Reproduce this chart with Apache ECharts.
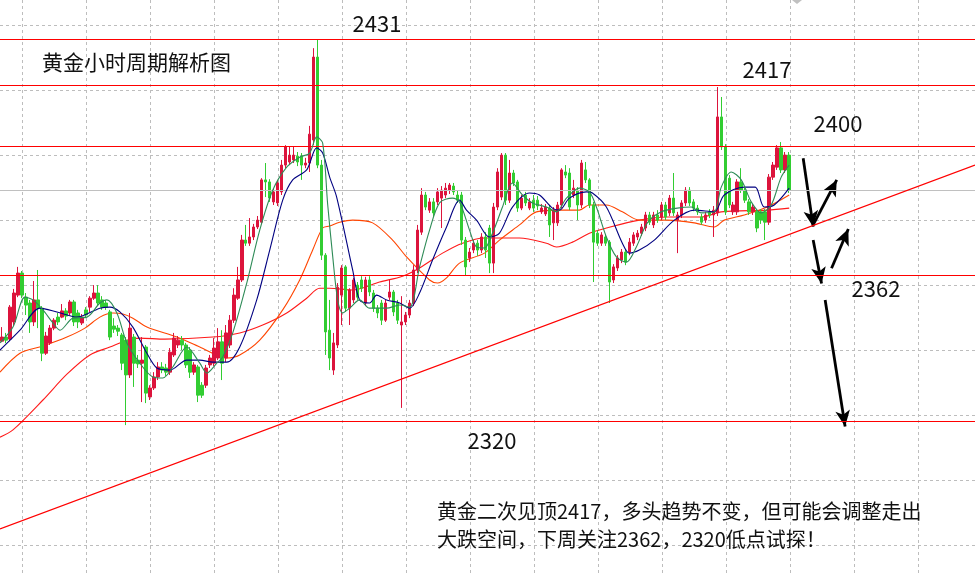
<!DOCTYPE html>
<html><head><meta charset="utf-8">
<script src="https://cdn.jsdelivr.net/npm/echarts@6/dist/echarts.min.js"></script>
<style>html,body{margin:0;padding:0;background:#fff}#c{width:975px;height:573px}</style>
</head><body><div id="c"></div>
<script>
// hourly gold candles: [open, close, low, high]
const candles = [
[2343.2,2344.4,2342.9,2347.3],[2344.4,2343.5,2342.6,2345.6],[2343.8,2353.1,2343.2,2353.7],[2348.8,2357.2,2347.6,2358.4],
[2356.6,2363.0,2356.0,2364.8],[2363.0,2356.6,2355.7,2363.6],[2356.0,2353.7,2350.8,2357.2],[2354.3,2348.8,2345.6,2355.2],
[2348.8,2355.2,2347.6,2360.7],[2355.2,2352.8,2347.0,2363.9],[2352.8,2339.7,2337.4,2353.4],[2339.7,2344.7,2339.2,2345.9],
[2342.7,2347.0,2342.1,2347.9],[2347.0,2349.3,2346.4,2349.9],[2350.2,2348.8,2347.9,2351.4],[2350.2,2352.0,2349.9,2354.0],
[2352.0,2350.5,2349.3,2352.8],[2351.4,2354.6,2350.8,2355.2],[2354.6,2348.8,2347.6,2355.2],[2351.4,2348.8,2347.0,2352.3],
[2348.5,2350.2,2347.9,2351.1],[2352.3,2350.8,2349.9,2353.1],[2353.1,2355.7,2351.7,2356.3],[2355.7,2357.2,2355.2,2359.5],
[2357.2,2354.3,2353.7,2359.5],[2355.2,2353.1,2352.3,2356.3],[2354.3,2353.1,2352.3,2355.2],[2351.7,2344.4,2343.5,2352.3],
[2347.6,2346.7,2345.6,2349.9],[2347.0,2346.1,2344.7,2347.9],[2345.0,2336.8,2334.8,2345.6],[2343.5,2333.4,2318.8,2344.4],
[2333.4,2347.0,2332.5,2351.4],[2344.4,2336.8,2329.9,2345.3],[2337.7,2336.6,2335.4,2339.2],[2336.8,2337.7,2325.5,2344.4],
[2341.5,2328.1,2325.2,2342.1],[2327.0,2329.6,2326.1,2330.4],[2329.6,2332.8,2329.0,2334.2],[2332.8,2335.7,2331.9,2337.1],
[2335.7,2334.8,2333.9,2337.1],[2335.4,2334.2,2333.1,2336.6],[2334.2,2340.0,2333.4,2341.2],[2339.2,2344.1,2338.6,2345.6],
[2342.1,2343.5,2341.2,2344.7],[2343.5,2342.1,2340.6,2344.7],[2342.1,2336.3,2335.4,2342.7],[2340.6,2334.2,2332.5,2341.5],
[2334.2,2336.3,2333.4,2337.1],[2335.7,2327.5,2325.5,2336.3],[2330.4,2327.5,2326.7,2331.3],[2330.4,2335.4,2329.6,2336.3],
[2336.3,2338.3,2335.4,2339.2],[2336.8,2341.2,2336.0,2344.1],[2338.3,2343.0,2337.7,2347.0],[2343.0,2336.8,2331.9,2346.4],
[2338.3,2345.6,2337.1,2347.9],[2342.1,2349.3,2341.2,2350.8],[2349.3,2356.6,2348.5,2358.6],[2355.7,2361.0,2355.2,2364.8],
[2361.0,2372.6,2360.4,2374.1],[2372.6,2371.7,2370.9,2377.0],[2371.7,2373.5,2370.9,2379.0],[2373.5,2376.4,2372.6,2377.3],
[2376.4,2378.4,2375.8,2379.6],[2377.8,2390.1,2377.3,2390.6],[2390.1,2389.5,2385.1,2395.0],[2389.5,2384.8,2383.7,2390.3],
[2383.7,2386.6,2382.8,2387.7],[2383.4,2389.2,2382.5,2390.1],[2386.6,2394.4,2385.7,2395.9],[2394.4,2399.7,2393.5,2400.2],
[2395.3,2397.3,2394.4,2399.7],[2395.9,2397.3,2395.0,2399.7],[2397.0,2395.3,2394.1,2398.2],[2397.0,2394.4,2390.1,2397.9],
[2394.4,2395.0,2393.5,2396.5],[2395.0,2403.4,2392.4,2405.8],[2401.7,2425.8,2400.2,2428.4],[2425.8,2394.4,2393.5,2430.8],
[2394.4,2368.2,2366.8,2395.9],[2368.2,2345.9,2339.2,2368.8],[2346.4,2338.3,2334.8,2355.2],[2334.8,2342.7,2333.4,2345.6],
[2342.1,2358.9,2341.2,2360.1],[2356.6,2364.5,2347.9,2365.3],[2364.8,2352.8,2351.7,2365.3],[2352.8,2358.1,2347.9,2358.6],
[2355.2,2361.0,2354.3,2361.6],[2359.5,2356.0,2355.2,2360.4],[2361.0,2358.6,2357.5,2362.1],[2354.3,2361.0,2353.4,2361.9],
[2361.0,2357.5,2356.3,2362.1],[2357.2,2352.8,2351.7,2358.1],[2352.8,2351.4,2349.9,2353.7],[2354.3,2349.3,2347.9,2355.2],
[2349.3,2354.3,2348.8,2355.2],[2356.0,2357.5,2355.2,2361.0],[2357.5,2351.7,2350.5,2358.1],[2354.3,2349.3,2348.2,2355.2],
[2347.9,2348.8,2323.8,2356.3],[2348.8,2350.8,2347.9,2351.7],[2350.8,2354.3,2349.9,2355.2],[2354.3,2363.9,2353.4,2365.3],
[2363.9,2375.5,2363.0,2377.0],[2374.9,2385.7,2374.1,2387.7],[2385.7,2382.2,2381.3,2386.6],[2381.3,2383.7,2380.5,2384.8],
[2383.7,2380.5,2379.3,2384.8],[2383.7,2386.6,2382.8,2387.7],[2384.8,2387.1,2376.1,2388.3],[2385.7,2387.7,2384.8,2389.2],
[2387.1,2388.6,2386.0,2389.2],[2388.3,2386.6,2385.7,2389.2],[2385.7,2384.2,2383.4,2387.1],[2385.7,2372.6,2371.2,2386.6],
[2372.6,2364.8,2362.4,2373.5],[2367.4,2369.1,2366.2,2370.3],[2369.7,2371.7,2368.8,2372.6],[2371.7,2369.7,2368.0,2372.6],
[2369.7,2373.5,2368.8,2374.6],[2373.5,2369.7,2367.4,2374.9],[2376.1,2365.9,2363.0,2377.0],[2365.9,2382.2,2363.0,2383.4],
[2382.2,2392.4,2381.3,2393.5],[2385.1,2397.3,2384.2,2397.9],[2397.3,2384.2,2382.8,2397.9],[2384.2,2392.1,2383.4,2395.9],
[2392.1,2389.2,2388.3,2393.0],[2389.5,2381.9,2380.8,2390.1],[2381.9,2384.8,2381.3,2385.7],[2385.7,2383.4,2382.5,2386.6],
[2381.9,2383.7,2381.3,2384.8],[2384.2,2381.9,2380.8,2385.7],[2384.2,2382.5,2381.3,2385.4],[2380.8,2381.9,2380.2,2383.1],
[2380.2,2382.2,2379.6,2383.1],[2381.9,2377.0,2373.5,2382.8],[2377.6,2381.3,2372.6,2382.2],[2377.6,2382.8,2376.7,2383.7],
[2382.8,2393.0,2381.9,2393.5],[2392.4,2391.5,2390.6,2394.4],[2392.1,2382.2,2381.3,2393.5],[2385.7,2387.7,2384.8,2390.1],
[2387.1,2382.8,2378.4,2388.0],[2382.8,2395.0,2381.9,2395.9],[2393.0,2390.1,2389.2,2395.3],[2390.1,2382.8,2381.9,2390.6],
[2382.8,2372.0,2360.4,2383.7],[2374.6,2371.7,2370.9,2375.5],[2371.7,2374.1,2370.9,2374.9],[2373.5,2371.7,2370.9,2374.4],
[2372.0,2360.4,2354.3,2372.6],[2361.0,2364.8,2360.1,2365.6],[2364.5,2367.4,2363.6,2368.2],[2366.8,2369.1,2365.9,2370.0],
[2369.1,2366.2,2365.3,2370.0],[2369.1,2372.0,2368.2,2373.2],[2371.7,2374.1,2370.9,2374.9],[2373.5,2374.6,2372.6,2375.5],
[2374.6,2376.4,2373.8,2377.3],[2376.1,2379.9,2375.2,2380.8],[2379.9,2377.8,2377.0,2380.8],[2377.0,2379.9,2376.1,2380.8],
[2379.9,2378.4,2377.6,2381.3],[2379.3,2382.8,2378.4,2383.7],[2382.8,2379.3,2378.4,2383.7],[2380.5,2384.8,2379.6,2385.7],
[2384.8,2380.5,2379.6,2392.1],[2378.4,2379.9,2368.8,2380.8],[2379.9,2383.4,2379.0,2384.2],[2383.4,2387.1,2382.5,2388.0],
[2387.1,2383.4,2382.5,2388.0],[2383.7,2381.9,2381.0,2384.5],[2381.9,2380.8,2379.9,2382.8],[2379.3,2377.8,2377.0,2380.2],
[2378.4,2379.9,2377.6,2380.8],[2380.8,2379.9,2379.0,2381.6],[2379.9,2381.3,2373.5,2382.5],[2380.5,2408.4,2379.6,2417.1],
[2408.4,2399.7,2398.8,2414.2],[2399.7,2380.8,2379.9,2400.5],[2390.6,2382.8,2381.9,2391.5],[2380.8,2382.8,2379.9,2383.7],
[2380.8,2389.5,2379.9,2390.3],[2389.5,2387.1,2386.3,2393.5],[2387.1,2384.2,2383.4,2388.0],[2383.7,2380.8,2379.9,2384.5],
[2380.8,2382.2,2379.9,2383.1],[2380.8,2376.1,2374.9,2381.6],[2380.8,2378.4,2377.3,2381.6],[2380.8,2377.8,2372.6,2381.6],
[2377.8,2390.9,2377.0,2391.8],[2390.9,2394.4,2390.1,2395.3],[2393.8,2399.4,2393.0,2400.2],[2399.4,2393.0,2392.1,2401.1],
[2393.0,2397.3,2392.1,2398.2],[2397.3,2387.1,2386.3,2398.2]
];

// moving averages: [bar index, price]
const maFast = [[-0.5,2342.7],[2.75,2347.3],[5.75,2356.0],[7.75,2355.2],[10.25,2352.3],[12.75,2348.5],[14.5,2346.4],[17.75,2349.9],[21.25,2350.2],[24.5,2354.3],[26.25,2355.2],[28.75,2351.4],[31.25,2342.7],[34.5,2336.8],[37.75,2332.8],[40.25,2332.5],[42.75,2335.7],[46.25,2341.5],[49.5,2336.8],[51.25,2333.9],[53.75,2336.8],[55.25,2338.6],[57.75,2345.6],[61.25,2360.1],[64.5,2375.5],[67.75,2387.1],[71.25,2393.8],[74.5,2396.7],[77,2397.9],[78.75,2402.6],[80.25,2400.8],[81.5,2383.0],[82.75,2368.0],[84,2355.2],[85.25,2351.4],[87,2352.8],[89.5,2355.2],[92,2352.8],[96.25,2352.8],[99.5,2353.7],[102,2353.1],[104.5,2364.8],[107,2375.5],[109.5,2383.4],[112.75,2384.8],[114.5,2383.7],[117,2375.5],[118.75,2370.6],[120.75,2370.3],[122.75,2374.6],[125.25,2382.2],[127.75,2389.2],[130.25,2385.7],[132.75,2383.4],[136.25,2382.2],[138.75,2380.8],[141.25,2384.8],[144.5,2387.7],[147,2386.6],[148.75,2382.2],[151.25,2373.5],[153.75,2367.7],[156.25,2366.2],[158.75,2370.6],[161.5,2377.6],[165,2380.8],[169,2381.9],[172.5,2382.2],[175,2380.5],[178.25,2380.8],[180,2388.0],[182.5,2392.4],[185,2390.1],[187.5,2383.7],[190,2380.5],[192.5,2382.8],[195,2390.9],[197,2394.4]];
const maMid = [[-0.5,2340.6],[4.5,2346.4],[9.5,2352.8],[13.75,2351.7],[18.75,2350.2],[24.5,2352.8],[27,2353.1],[29.5,2351.7],[32.75,2347.3],[36.25,2339.7],[38.75,2335.4],[42,2334.8],[46.25,2337.7],[49.5,2337.7],[52.75,2337.1],[56.25,2337.1],[59.5,2341.5],[63.75,2355.2],[67,2369.7],[70.25,2384.2],[72.75,2390.1],[76.25,2393.0],[78.75,2399.4],[80.25,2397.9],[82,2390.9],[83.75,2385.1],[87.75,2363.9],[89.5,2355.2],[92,2354.3],[93.75,2356.6],[96.25,2355.2],[99.5,2354.3],[102,2352.8],[104.5,2357.2],[107.75,2366.8],[111.25,2376.4],[114.5,2384.2],[116.25,2381.3],[118.75,2378.4],[122,2373.5],[124.5,2374.6],[127.75,2382.2],[132,2386.3],[134.5,2385.7],[137.75,2381.9],[139.5,2381.3],[142,2384.8],[146.25,2386.6],[147.75,2386.3],[151.25,2382.2],[155.25,2371.7],[157,2368.8],[159.5,2369.7],[163.25,2372.6],[168.25,2378.4],[173.25,2381.3],[178.25,2380.8],[180.75,2385.7],[185.75,2388.0],[188.5,2388.0],[190.75,2382.2],[193.25,2382.8],[197,2387.7]];
const maSlow = [[-0.5,2334.2],[4.5,2339.7],[10.25,2341.8],[16.25,2344.4],[20.75,2347.0],[24.5,2350.2],[27.75,2351.4],[30.25,2351.1],[32.75,2349.9],[36.25,2347.3],[43.75,2344.4],[49.5,2341.5],[56.25,2338.3],[59.5,2339.2],[64.5,2343.5],[70.25,2352.3],[74.5,2361.0],[77.75,2369.7],[80.25,2376.1],[82,2376.7],[84.5,2377.8],[87.75,2378.4],[92.75,2377.6],[97.75,2372.6],[101.25,2367.7],[107,2361.0],[109,2360.1],[111.25,2361.6],[114.5,2365.9],[120.75,2368.8],[124.5,2372.6],[129.5,2377.0],[133.75,2380.8],[139.5,2381.3],[144.5,2381.3],[147,2382.8],[151.25,2382.8],[155.25,2380.8],[159.5,2378.4],[166.5,2378.4],[173.25,2377.6],[178.25,2376.4],[180.75,2378.4],[185.75,2379.9],[191.5,2382.2],[197,2385.7]];
const maLong = [[-0.5,2315.3],[2.75,2317.4],[10.25,2326.1],[16.25,2333.6],[22,2339.2],[27,2341.5],[31.25,2343.5],[34.5,2344.1],[40.75,2343.8],[52.75,2344.4],[59.5,2345.6],[65.25,2347.9],[71.25,2351.4],[76.25,2355.7],[79.5,2358.6],[82,2358.6],[87.75,2358.1],[94.5,2360.4],[100.25,2362.1],[104.5,2364.5],[110.25,2368.8],[115.25,2371.7],[120.75,2373.2],[129.5,2373.2],[136.25,2371.7],[138.75,2370.6],[142.75,2372.0],[147,2374.6],[151.25,2376.1],[159.5,2378.4],[166.5,2379.3],[175,2379.3],[180,2380.8],[191.5,2381.3],[197,2381.9]];

// analyst annotations
const levels = [2431, 2417.6, 2400, 2362.4, 2320];
const levelLabels = ['2431', '2417', '2400', '2362', '2320'];
const trendLine = [[-0.5, 2288.6], [243.5, 2394.4]];
const arrows = [
  [[200.5, 2396.4], [203.0, 2376.5]],
  [[203.0, 2377.0], [208.9, 2390.1]],
  [[203.0, 2372.6], [205.1, 2360.0]],
  [[207.6, 2364.4], [211.8, 2375.8]],
  [[206.0, 2355.2], [211.0, 2318.4]]
];
const titleText = '黄金小时周期解析图';
const noteLines = ['黄金二次见顶2417，多头趋势不变，但可能会调整走出', '大跌空间，下周关注2362，2320低点试探！'];
const slotCount = 244;
const categories = Array.from({length: slotCount}, (_, i) => 'H' + i);

const lastClose = candles[candles.length - 1][1];
const chart = echarts.init(document.getElementById('c'), null, {renderer: 'canvas'});
const gridDash = {show: true, lineStyle: {color: '#bdbdbd', type: [3, 3], width: 1}};
const cjk = "'Noto Sans CJK SC', 'Noto Sans', sans-serif";
function txt(text, x, y, size, align) {
  return {type: 'text', x: x, y: y, z: 100, style: {text: text, fill: '#111', font: size + 'px ' + cjk, align: align || 'center', verticalAlign: 'middle'}};
}
chart.setOption({
  animation: false,
  backgroundColor: '#fff',
  grid: [
    {left: 0, right: 0, top: 0, bottom: 0},
    {left: 0, right: 0, top: 25, bottom: 28},
    {left: 22, right: 57, top: 0, bottom: 0}
  ],
  xAxis: [
    {type: 'category', gridIndex: 0, data: categories, boundaryGap: true, show: false},
    {type: 'value', gridIndex: 0, min: -0.5, max: slotCount - 0.5, show: false},
    {type: 'value', gridIndex: 1, min: 0, max: 1, show: false},
    {type: 'value', gridIndex: 2, min: 0, max: 14, interval: 1, axisLine: {show: false}, axisTick: {show: false}, axisLabel: {show: false}, splitLine: gridDash}
  ],
  yAxis: [
    {type: 'value', gridIndex: 0, min: 2275.8, max: 2442.4, show: false},
    {type: 'value', gridIndex: 1, min: 0, max: 8, interval: 1, axisLine: {show: false}, axisTick: {show: false}, axisLabel: {show: false}, splitLine: gridDash},
    {type: 'value', gridIndex: 2, min: 0, max: 1, show: false}
  ],
  series: [
    {type: 'candlestick', xAxisIndex: 0, yAxisIndex: 0, data: candles, barWidth: 3, z: 5,
     itemStyle: {color: '#DC143C', color0: '#32CD32', borderColor: '#DC143C', borderColor0: '#32CD32', borderWidth: 1},
     markLine: {silent: true, symbol: 'none', label: {show: false}, z: 6,
       data: levels.map(v => ({yAxis: v, lineStyle: {color: '#ff0000', width: 1.2, type: 'solid'}}))
         .concat([{yAxis: lastClose, lineStyle: {color: '#c0c0c0', width: 1, type: 'solid'}}])}},
    {type: 'line', xAxisIndex: 1, yAxisIndex: 0, data: maLong, smooth: 0.3, symbol: 'none', z: 4, lineStyle: {color: '#ff1a1a', width: 1.1}},
    {type: 'line', xAxisIndex: 1, yAxisIndex: 0, data: maSlow, smooth: 0.3, symbol: 'none', z: 4, lineStyle: {color: '#ff4500', width: 1.1}},
    {type: 'line', xAxisIndex: 1, yAxisIndex: 0, data: maMid, smooth: 0.3, symbol: 'none', z: 6, lineStyle: {color: '#000080', width: 1.1}},
    {type: 'line', xAxisIndex: 1, yAxisIndex: 0, data: maFast, smooth: 0.3, symbol: 'none', z: 6, lineStyle: {color: '#2e8b57', width: 1.1}},
    {type: 'line', xAxisIndex: 1, yAxisIndex: 0, data: trendLine, symbol: 'none', z: 7, lineStyle: {color: '#ff0000', width: 1.2},
     markLine: {silent: true, symbol: ['none', 'arrow'], symbolSize: [11, 16], label: {show: false},
       lineStyle: {color: '#000', width: 2.8, type: 'solid'},
       data: arrows.map(a => [{coord: a[0]}, {coord: a[1]}])}}
  ],
  graphic: [
    {type: 'polygon', z: 100, shape: {points: [[792, 0], [802, 0], [797, 4]]}, style: {fill: '#c0c0c0'}},
    txt(levelLabels[0], 377, 24, 22),
    txt(titleText, 42, 62, 21, 'left'),
    txt(levelLabels[1], 767, 70, 22),
    txt(levelLabels[2], 838, 124, 22),
    txt(levelLabels[3], 876, 289, 22),
    txt(levelLabels[4], 492, 441, 22),
    txt(noteLines[0], 437, 511, 20, 'left'),
    txt(noteLines[1], 437, 539, 20, 'left')
  ]
});
</script></body></html>
